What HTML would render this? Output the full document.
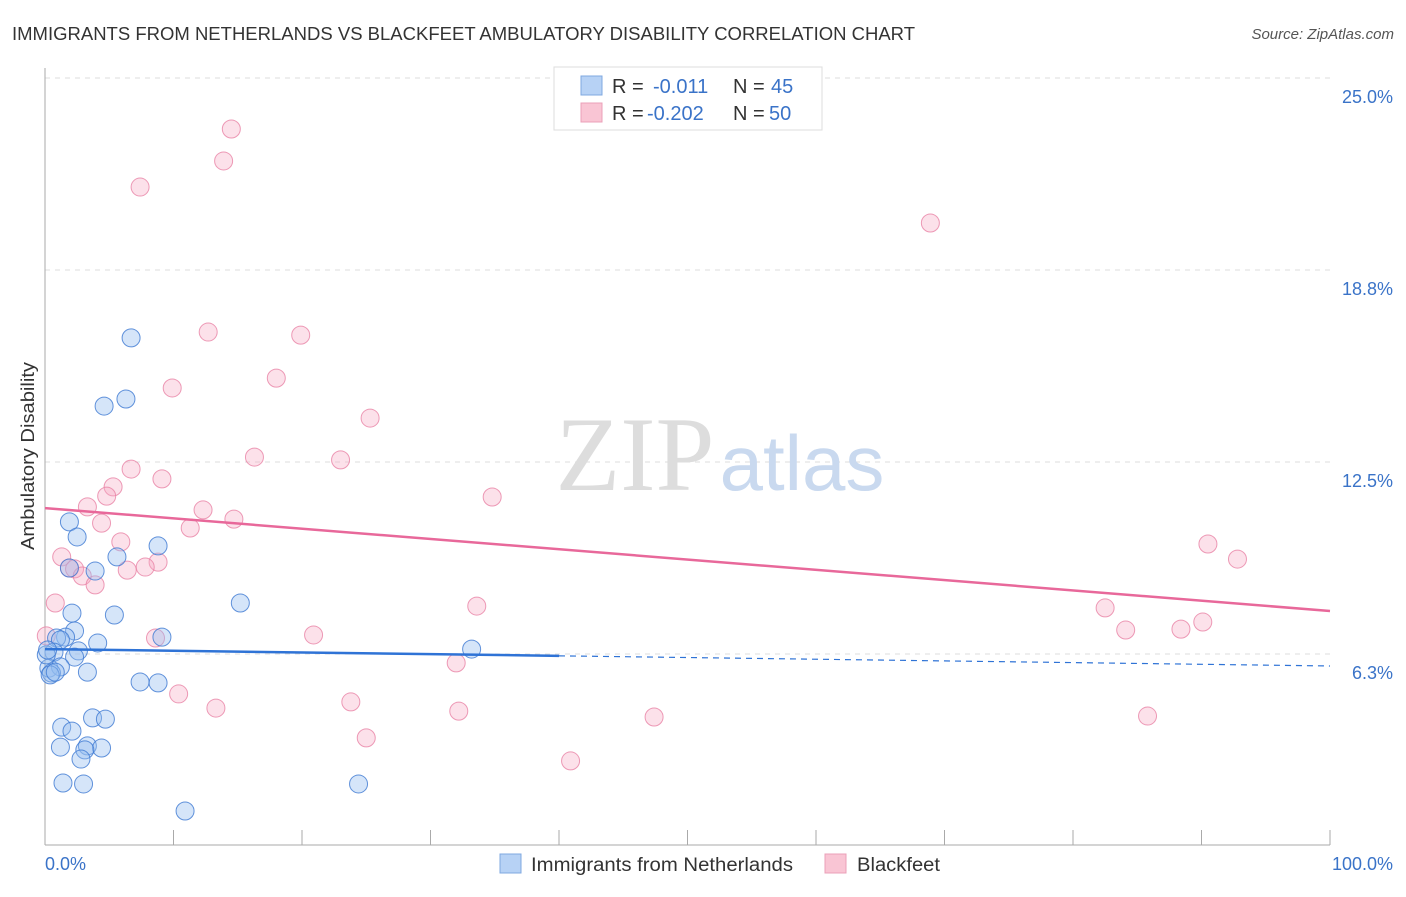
<!DOCTYPE html>
<html><head><meta charset="utf-8"><style>
body{margin:0;background:#fff;font-family:"Liberation Sans",sans-serif;}
svg text{font-family:"Liberation Sans",sans-serif;}
</style></head><body>
<svg id="chart" width="1406" height="892" xmlns="http://www.w3.org/2000/svg">
<text x="12" y="40" font-size="18" fill="#333" textLength="903" lengthAdjust="spacingAndGlyphs">IMMIGRANTS FROM NETHERLANDS VS BLACKFEET AMBULATORY DISABILITY CORRELATION CHART</text>
<text x="1394" y="39" font-size="15" fill="#555" font-style="italic" text-anchor="end">Source: ZipAtlas.com</text>
<text x="34" y="456" font-size="18" fill="#333" text-anchor="middle" textLength="188" lengthAdjust="spacingAndGlyphs" transform="rotate(-90 34 456)">Ambulatory Disability</text>
<g id="grid"></g>
<g><text x="635" y="490" font-size="106" fill="#ddd" text-anchor="middle" style="font-family:'Liberation Serif',serif">ZIP</text><text x="802" y="490" font-size="78" fill="#c9d9ef" text-anchor="middle">atlas</text></g>
<line x1="45" y1="68" x2="45" y2="845" stroke="#aaa"/>
<line x1="45" y1="845" x2="1330" y2="845" stroke="#aaa"/>
<g id="xticks"></g>
<g id="pts"></g>
<g id="trend"></g>
<text x="45" y="870" font-size="18" fill="#3a73c8">0.0%</text>
<text x="1393" y="870" font-size="18" fill="#3a73c8" text-anchor="end">100.0%</text>
<g>
<rect x="554" y="67" width="268" height="63" fill="#fff" stroke="#ddd"/>
<rect x="581" y="76" width="21" height="19" fill="#b7d2f5" stroke="#7fa8e0"/>
<rect x="581" y="103" width="21" height="19" fill="#f9c5d4" stroke="#eba0b8"/>
<text x="612" y="93" font-size="20" fill="#333">R =</text><text x="653" y="93" font-size="20" fill="#3a73c8">-0.011</text><text x="733" y="93" font-size="20" fill="#333">N =</text><text x="771" y="93" font-size="20" fill="#3a73c8">45</text>
<text x="612" y="120" font-size="20" fill="#333">R =</text><text x="647" y="120" font-size="20" fill="#3a73c8">-0.202</text><text x="733" y="120" font-size="20" fill="#333">N =</text><text x="769" y="120" font-size="20" fill="#3a73c8">50</text>
</g>
<g>
<rect x="500" y="854" width="21" height="19" fill="#b7d2f5" stroke="#7fa8e0"/>
<text x="531" y="871" font-size="19" fill="#333" textLength="262" lengthAdjust="spacingAndGlyphs">Immigrants from Netherlands</text>
<rect x="825" y="854" width="21" height="19" fill="#f9c5d4" stroke="#eba0b8"/>
<text x="857" y="871" font-size="19" fill="#333" textLength="83" lengthAdjust="spacingAndGlyphs">Blackfeet</text>
</g>
</svg>
<script>
const yTicks=[25,18.75,12.5,6.25];
const yTickLabels=["25.0%","18.8%","12.5%","6.3%"];
const blueX=[6.7,4.6,6.3,1.9,2.5,5.6,8.8,3.9,1.9,5.4,2.1,15.2,2.3,1.6,0.9,1.2,4.1,9.1,33.2,0.7,2.6,2.3,0.3,1.2,3.3,0.5,7.4,8.8,3.7,4.7,1.3,2.1,1.2,3.3,4.4,3.1,2.8,1.4,3.0,24.4,10.9,0.1,0.4,0.8,0.2];
const blueY=[16.54,14.32,14.55,10.55,10.06,9.41,9.77,8.95,9.05,7.52,7.58,7.91,7.0,6.8,6.77,6.71,6.61,6.8,6.41,6.31,6.35,6.15,5.79,5.83,5.66,5.63,5.34,5.31,4.17,4.13,3.87,3.74,3.22,3.26,3.19,3.13,2.83,2.05,2.02,2.02,1.14,6.22,5.57,5.66,6.38];
const pinkX=[14.5,13.9,7.4,68.9,12.7,19.9,18.0,9.9,25.3,16.3,23.0,6.7,9.1,5.3,4.8,34.8,3.3,12.3,14.7,4.4,11.3,90.5,5.9,1.3,92.8,1.9,2.3,8.8,7.8,6.4,2.9,3.9,0.8,33.6,82.5,20.9,8.6,84.1,88.4,90.1,0.1,32.0,10.4,23.8,13.3,32.2,47.4,85.8,25.0,40.9];
const pinkY=[23.34,22.3,21.45,20.28,16.73,16.63,15.23,14.91,13.93,12.66,12.57,12.27,11.95,11.69,11.39,11.36,11.04,10.94,10.64,10.51,10.35,9.83,9.9,9.41,9.34,9.05,9.02,9.24,9.08,8.98,8.79,8.5,7.91,7.81,7.75,6.87,6.77,7.03,7.06,7.29,6.84,5.96,4.95,4.69,4.49,4.39,4.2,4.23,3.52,2.77];
const blueTrend=[6.41,5.86];
const pinkTrend=[11.0,7.65];
const blueSolidEnd=40;
const NS="http://www.w3.org/2000/svg";
const xs=v=>45+v*12.85, ys=v=>78+(25-v)*30.72;
function mk(tag,attrs,parent){const e=document.createElementNS(NS,tag);for(const k in attrs)e.setAttribute(k,attrs[k]);document.getElementById(parent).appendChild(e);return e;}
yTicks.forEach((t,i)=>{
 const l=mk('line',{x1:45,x2:1330,y1:ys(t),y2:ys(t),stroke:'#ddd','stroke-dasharray':'5,5'},'grid');
 
 
 const tx=mk('text',{x:1393,y:ys(t)+25,'font-size':18,fill:'#3a73c8','text-anchor':'end'},'grid');
 tx.textContent=yTickLabels[i];
 
 
});
for(let i=0;i<=10;i++){
 const l=mk('line',{x1:xs(i*10),x2:xs(i*10),y1:830,y2:845,stroke:'#aaa'},'xticks');
 
 
}
pinkX.forEach((x,i)=>{
 const c=mk('circle',{cx:xs(x),cy:ys(pinkY[i]),r:9,fill:'rgba(246,170,195,0.35)',stroke:'rgba(232,130,165,0.8)','stroke-width':1},'pts');
 
 
});
blueX.forEach((x,i)=>{
 const c=mk('circle',{cx:xs(x),cy:ys(blueY[i]),r:9,fill:'rgba(150,190,240,0.4)',stroke:'rgba(60,120,210,0.8)','stroke-width':1},'pts');
 
 
});
const pl=mk('line',{x1:xs(0),y1:ys(pinkTrend[0]),x2:xs(100),y2:ys(pinkTrend[1]),stroke:'#e8689a','stroke-width':2.5},'trend');


const bm=blueTrend[0]+(blueTrend[1]-blueTrend[0])*blueSolidEnd/100;
const bl=mk('line',{x1:xs(0),y1:ys(blueTrend[0]),x2:xs(blueSolidEnd),y2:ys(bm),stroke:'#2f73d6','stroke-width':2.5},'trend');


const bd=mk('line',{x1:xs(blueSolidEnd),y1:ys(bm),x2:xs(100),y2:ys(blueTrend[1]),stroke:'#2f73d6','stroke-width':1.2,'stroke-dasharray':'6,5'},'trend');


</script>
</body></html>
